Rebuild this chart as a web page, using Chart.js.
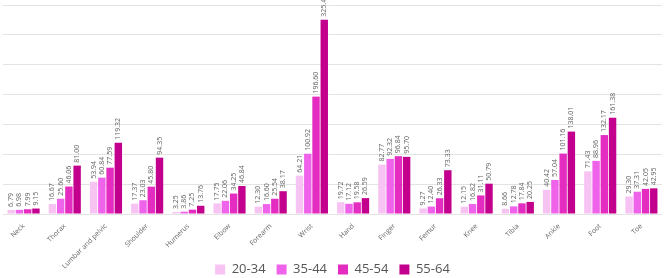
<!DOCTYPE html>
<html><head><meta charset="utf-8">
<script src="https://cdn.jsdelivr.net/npm/chart.js@4/dist/chart.umd.min.js"></script>
<style>html,body{margin:0;padding:0;background:#fff}#wrap{width:669px;height:278px}</style>
</head><body><div id="wrap"><canvas id="c"></canvas></div>
<script>
const categories = ["Neck","Thorax","Lumbar and pelvic","Shoulder","Humerus","Elbow","Forearm","Wrist","Hand","Finger","Femur","Knee","Tibia","Ankle","Foot","Toe"];
const seriesNames = ["20-34","35-44","45-54","55-64"];
const s2034 = [6.79,16.67,53.94,17.37,3.25,17.75,12.30,64.21,19.72,82.77,9.27,12.15,8.66,40.42,71.43,29.30];
const s3544 = [6.98,25.60,60.84,23.03,3.86,22.06,16.60,100.92,17.12,92.32,12.40,16.82,12.78,57.04,88.96,37.31];
const s4554 = [7.99,46.06,77.59,45.80,7.25,34.25,25.54,196.60,19.58,96.84,26.33,31.11,17.84,101.16,132.17,42.05];
const s5564 = [9.15,81.00,119.32,94.35,13.76,46.84,38.17,325.44,26.59,95.70,73.33,50.79,20.25,138.01,161.38,42.95];
const colors = ["#f7c3f3","#ef62ea","#e52cc0","#c3008e"];
const yTicks = [0,50,100,150,200,250,300,350];

const labelPlugin = {
  id:'vlabels',
  afterLayout(chart){ chart.scales.x.bottom = chart.height; },
  afterDatasetsDraw(chart){
    const ctx = chart.ctx;
    ctx.save();
    ctx.font = '7px "Open Sans", sans-serif';
    ctx.fillStyle = '#666';
    ctx.textAlign = 'left';
    ctx.textBaseline = 'middle';
    chart.data.datasets.forEach((ds,i)=>{
      chart.getDatasetMeta(i).data.forEach((el,j)=>{
        ctx.save();
        ctx.translate(el.x, el.y-3);
        ctx.rotate(-Math.PI/2);
        ctx.fillText(ds.data[j].toFixed(2),0,0);
        ctx.restore();
      });
    });
    ctx.restore();
  }
};

new Chart(document.getElementById('c'),{
  type:'bar',
  data:{labels:categories,datasets:[s2034,s3544,s4554,s5564].map((d,i)=>({label:seriesNames[i],data:d,backgroundColor:colors[i],categoryPercentage:0.8,barPercentage:0.9}))},
  options:{
    responsive:true,maintainAspectRatio:false,animation:false,
    layout:{padding:{top:5,left:3,right:7,bottom:-8}},
    plugins:{
      legend:{position:'bottom',labels:{boxWidth:10,boxHeight:10,color:'#555',font:{size:13,family:'"Open Sans", sans-serif'},padding:11}},
      tooltip:{enabled:false}
    },
    scales:{
      x:{grid:{display:false},border:{display:false},afterFit(s){s.height=38;},ticks:{color:'#666',font:{size:7,family:'"Open Sans", sans-serif'},minRotation:45,maxRotation:45,padding:0}},
      y:{min:0,max:350,afterBuildTicks(s){s.ticks=yTicks.map(v=>({value:v}));},grid:{color:'#e3e3e3',drawTicks:false},border:{display:false},ticks:{display:false}}
    }
  },
  plugins:[labelPlugin]
});
</script></body></html>
